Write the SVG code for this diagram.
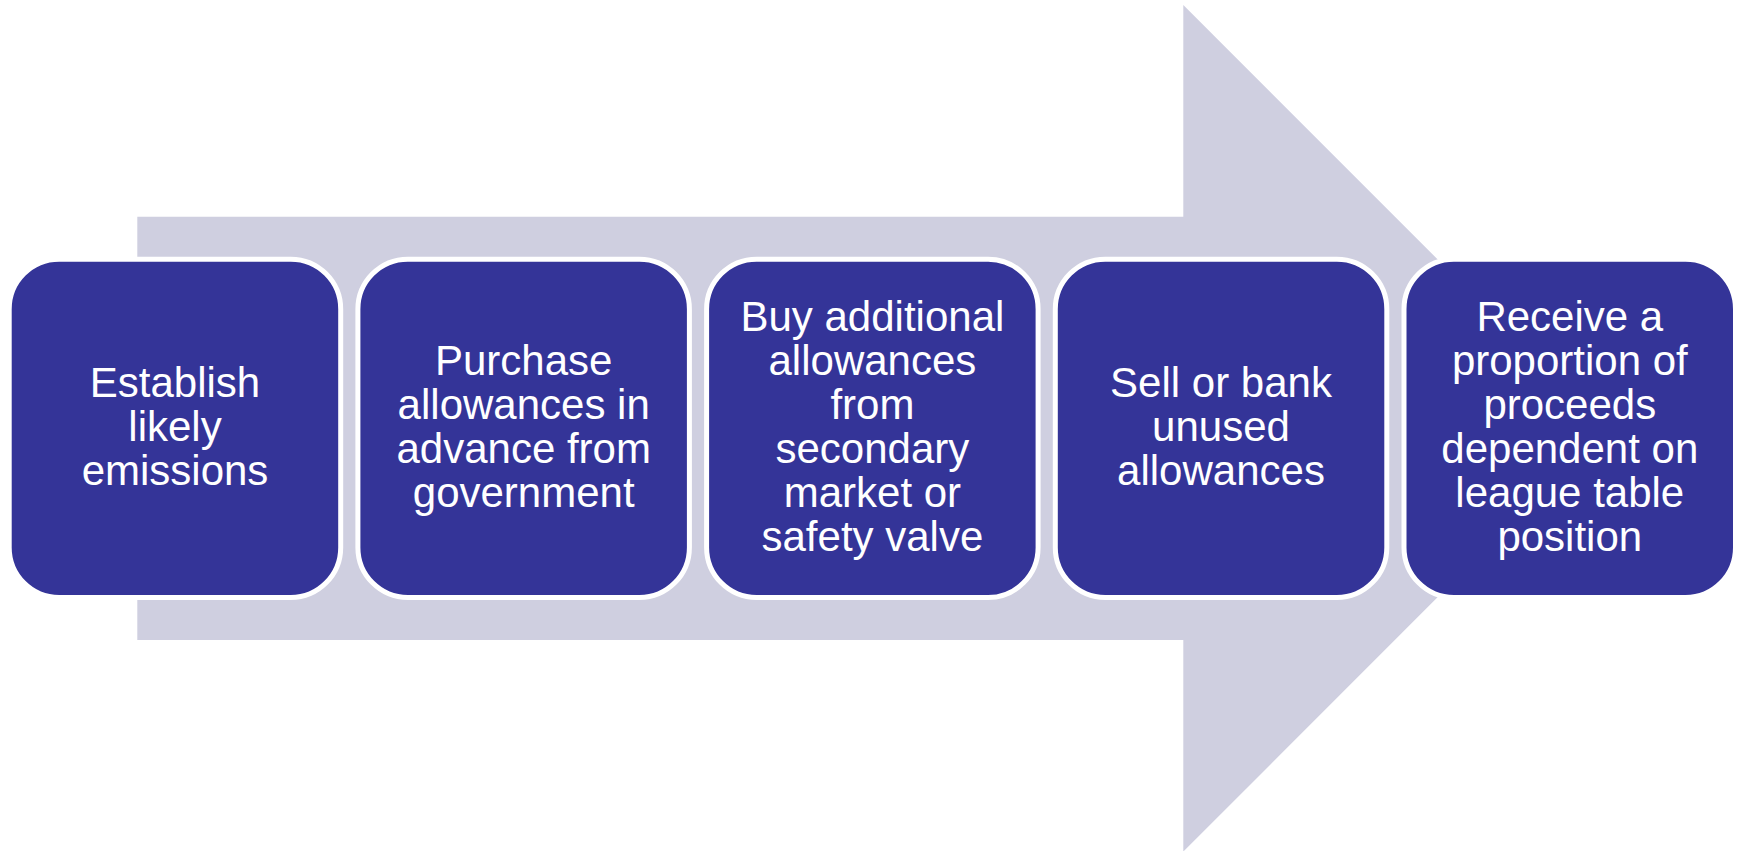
<svg xmlns="http://www.w3.org/2000/svg" width="1739" height="851" viewBox="0 0 1739 851">
<style>
.box{fill:#343498;stroke:#FFFFFF;stroke-width:5}
.lbl{font-family:"Liberation Sans",Arial,sans-serif;font-size:42px;fill:#FFFFFF;text-anchor:middle}
</style>
<rect x="0" y="0" width="1739" height="851" fill="#FFFFFF"/>
<g id="arrow">
<polygon points="137.3,216.7 1183.3,216.7 1183.3,5 1606.5,428.3 1183.3,851.6 1183.3,640 137.3,640" fill="#CFCFE0"/>
</g>
<g id="connectors"></g>
<g id="node1">
<rect class="box" x="9.2" y="259.2" width="331.5" height="338.3" rx="50" ry="50"/>
<text class="lbl" x="175" y="397">Establish</text>
<text class="lbl" x="175" y="441">likely</text>
<text class="lbl" x="175" y="485">emissions</text>
</g>
<g id="node2">
<rect class="box" x="357.9" y="259.2" width="331.5" height="338.3" rx="50" ry="50"/>
<text class="lbl" x="523.7" y="375">Purchase</text>
<text class="lbl" x="523.7" y="419">allowances in</text>
<text class="lbl" x="523.7" y="463">advance from</text>
<text class="lbl" x="523.7" y="507">government</text>
</g>
<g id="node3">
<rect class="box" x="706.6" y="259.2" width="331.5" height="338.3" rx="50" ry="50"/>
<text class="lbl" x="872.4" y="331">Buy additional</text>
<text class="lbl" x="872.4" y="375">allowances</text>
<text class="lbl" x="872.4" y="419">from</text>
<text class="lbl" x="872.4" y="463">secondary</text>
<text class="lbl" x="872.4" y="507">market or</text>
<text class="lbl" x="872.4" y="551">safety valve</text>
</g>
<g id="node4">
<rect class="box" x="1055.3" y="259.2" width="331.5" height="338.3" rx="50" ry="50"/>
<text class="lbl" x="1221" y="397">Sell or bank</text>
<text class="lbl" x="1221" y="441">unused</text>
<text class="lbl" x="1221" y="485">allowances</text>
</g>
<g id="node5">
<rect class="box" x="1404" y="259.2" width="331.5" height="338.3" rx="50" ry="50"/>
<text class="lbl" x="1569.8" y="331">Receive a</text>
<text class="lbl" x="1569.8" y="375">proportion of</text>
<text class="lbl" x="1569.8" y="419">proceeds</text>
<text class="lbl" x="1569.8" y="463">dependent on</text>
<text class="lbl" x="1569.8" y="507">league table</text>
<text class="lbl" x="1569.8" y="551">position</text>
</g>
</svg>
